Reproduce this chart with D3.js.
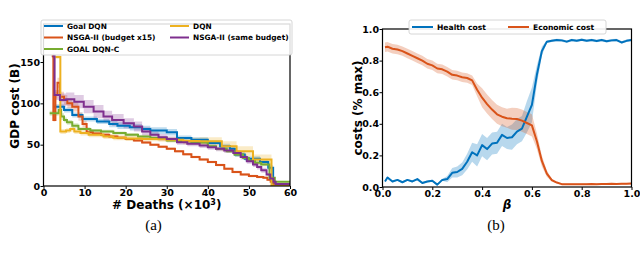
<!DOCTYPE html>
<html>
<head>
<meta charset="utf-8">
<script src="https://cdn.jsdelivr.net/npm/d3@7"></script>
<style>
  body { margin: 0; background: #fff; }
  text { font-family: "DejaVu Sans", sans-serif; }
</style>
</head>
<body>
<svg id="chart" width="640" height="255"></svg>
<script>
// ---- panel (a): pareto fronts, x = deaths (x10^3), y = GDP cost (B)
const goalX = [2.5, 5, 7, 9.5, 13, 16, 18, 21, 24, 26, 30, 32.5, 36, 40, 43, 45.4, 46.6, 49, 52.7, 54.7, 55.9, 56.5, 60];
const goalY = [96, 92, 86, 81, 78, 75, 73, 71, 69, 67, 65, 58, 56, 52, 48, 45, 38, 33, 29, 22, 3, 1, 1];
const goalErr = [3, 3, 3, 3, 3, 4, 4, 4, 4, 4, 4, 3, 3, 3, 3, 3, 3, 3, 3, 3, 1, 0.5, 0.5];

const nsga15X = [2.0, 2.4, 2.9, 3.4, 4.0, 5.0, 5.8, 7, 8.5, 9.5, 10.5, 12, 14, 16, 18, 20, 22, 24, 26, 28, 30, 32, 34, 36, 38, 40, 42, 44, 46, 48, 50, 52, 53.5, 54.5, 55.3, 56, 60];
const nsga15Y = [157, 80, 110, 125, 108, 104, 100, 96, 84, 75, 65, 63.5, 62, 60, 58.5, 57, 55, 52.5, 50, 47.5, 45, 42, 38.5, 35, 32, 29, 25.5, 21, 17, 14, 12, 11, 10, 7.5, 5, 1, 1];
const nsga15Err = [0, 2, 4, 6, 6, 6, 6, 6, 5, 4, 3, 2, 2, 2, 2, 1.5, 1.5, 1.5, 1.5, 1.5, 1.5, 1.5, 1.5, 1.5, 1.5, 1.5, 1.5, 1.5, 1.5, 1.5, 1.5, 1.5, 1.5, 1, 1, 0.5, 0.5];

const dqncX = [1.5, 3.7, 4.3, 5, 5.7, 7, 8.5, 11.4, 14, 17, 20, 23, 26, 30, 33, 36, 40, 42, 44.6, 46.5, 48.6, 50, 51.5, 53, 55, 56.3, 60];
const dqncY = [88, 92, 84, 80, 77, 73, 69, 67, 66, 64, 62, 60, 58, 55, 54, 52.5, 48, 45, 42, 38, 34, 31, 28, 26, 10, 5, 5];
const dqncErr = [3, 4, 4, 3, 3, 3, 2, 2, 2, 2, 2, 2, 2, 2, 2, 2, 2, 2, 2, 2, 2, 2, 2, 2, 1, 1, 1];

const dqnX = [2.9, 4.1, 5.5, 6.5, 7.5, 9, 11, 14.6, 17, 20, 24, 28, 30, 34, 38, 43.4, 47, 51, 55.5, 60];
const dqnY = [156, 66, 67, 69, 66, 64, 62, 60, 58.5, 57.5, 57, 56.5, 56, 54.5, 54, 48, 42, 32, 0.5, 0.5];
const dqnErr = [2, 3, 3, 3, 3, 3, 3, 3, 3, 3, 3, 3, 3, 4, 5, 6, 6, 6, 0.5, 0.5];

const nsgaSameX = [2.2, 2.7, 4, 5.5, 7.5, 9.8, 12.2, 14.6, 16.7, 19.5, 22, 24, 26, 28, 30, 32.5, 35, 38, 40, 42, 44, 46.2, 48, 49.5, 51, 52, 53, 54.3, 55.2, 56, 56.5, 60];
const nsgaSameY = [157, 110, 104, 105, 102, 96, 90, 84, 80, 76, 72, 66, 62, 59, 57, 53, 51, 49, 47, 45, 43, 40, 35, 30, 26, 23, 19, 14, 9, 5, 2.5, 2.5];
const nsgaSameErr = [4, 6, 8, 8, 8, 8, 8, 7, 7, 6, 6, 5, 4, 4, 3, 3, 3, 3, 3, 3, 3, 3, 3, 3, 3, 3, 3, 2, 2, 1, 1, 1];

const deathTicks = [0, 10, 20, 30, 40, 50, 60];
const gdpTicks = [0, 50, 100, 150];

// ---- panel (b): costs vs beta
const beta = [0.01, 0.02, 0.04, 0.06, 0.08, 0.10, 0.12, 0.14, 0.16, 0.18, 0.20, 0.22, 0.24, 0.26, 0.28, 0.30, 0.32, 0.34, 0.36, 0.38, 0.40, 0.42, 0.44, 0.46, 0.48, 0.50, 0.52, 0.54, 0.56, 0.58, 0.60, 0.62, 0.64, 0.66, 0.68, 0.70, 0.72, 0.74, 0.76, 0.78, 0.80, 0.82, 0.84, 0.86, 0.88, 0.90, 0.92, 0.94, 0.96, 0.98, 1.00];
const health = [0.035, 0.06, 0.035, 0.045, 0.03, 0.045, 0.035, 0.05, 0.025, 0.035, 0.04, 0.015, 0.045, 0.05, 0.09, 0.095, 0.115, 0.16, 0.22, 0.20, 0.265, 0.24, 0.275, 0.28, 0.33, 0.31, 0.315, 0.35, 0.37, 0.445, 0.52, 0.71, 0.86, 0.92, 0.925, 0.93, 0.928, 0.92, 0.93, 0.925, 0.932, 0.925, 0.93, 0.924, 0.93, 0.922, 0.928, 0.93, 0.915, 0.925, 0.93];
const healthErr = [0.006, 0.006, 0.006, 0.006, 0.006, 0.006, 0.006, 0.006, 0.006, 0.006, 0.006, 0.006, 0.006, 0.02, 0.03, 0.035, 0.04, 0.05, 0.06, 0.07, 0.07, 0.07, 0.07, 0.07, 0.07, 0.07, 0.08, 0.08, 0.08, 0.1, 0.11, 0.06, 0.03, 0.008, 0.008, 0.008, 0.008, 0.008, 0.008, 0.008, 0.008, 0.008, 0.008, 0.008, 0.008, 0.008, 0.008, 0.008, 0.008, 0.008, 0.008];
const econ = [0.885, 0.888, 0.875, 0.87, 0.86, 0.845, 0.83, 0.815, 0.8, 0.78, 0.77, 0.75, 0.745, 0.73, 0.71, 0.705, 0.695, 0.69, 0.675, 0.615, 0.565, 0.525, 0.49, 0.46, 0.445, 0.435, 0.432, 0.43, 0.42, 0.405, 0.39, 0.29, 0.165, 0.085, 0.043, 0.028, 0.018, 0.017, 0.018, 0.017, 0.018, 0.018, 0.019, 0.018, 0.019, 0.019, 0.02, 0.019, 0.02, 0.02, 0.022];
const econErr = [0.03, 0.03, 0.03, 0.03, 0.03, 0.03, 0.03, 0.03, 0.03, 0.03, 0.03, 0.03, 0.03, 0.03, 0.03, 0.03, 0.03, 0.03, 0.03, 0.04, 0.06, 0.06, 0.06, 0.06, 0.06, 0.06, 0.07, 0.07, 0.07, 0.07, 0.07, 0.05, 0.035, 0.02, 0.01, 0.005, 0.005, 0.005, 0.005, 0.005, 0.005, 0.005, 0.005, 0.005, 0.005, 0.005, 0.005, 0.005, 0.005, 0.005, 0.005];

const betaTicks = [0, 0.2, 0.4, 0.6, 0.8, 1.0];
const costTicks = [0, 0.2, 0.4, 0.6, 0.8, 1.0];

const svg = d3.select("#chart");

// shared helper: box, ticks, tick labels
function drawAxes(x, y, xt, yt, fmt) {
  const g = svg.append("g");
  g.append("g")
    .attr("transform", `translate(0,${y.range()[0]})`)
    .call(d3.axisBottom(x).tickValues(xt).tickSize(3).tickPadding(0).tickFormat(fmt))
    .call((a) => a.select(".domain").remove());
  g.append("g")
    .attr("transform", `translate(${x.range()[0]},0)`)
    .call(d3.axisLeft(y).tickValues(yt).tickSize(3).tickPadding(0.5).tickFormat(fmt))
    .call((a) => a.select(".domain").remove());
  g.selectAll(".tick line").attr("stroke", "#000").attr("stroke-width", 1);
  g.selectAll(".tick text")
    .attr("fill", "#000")
    .style("font-family", "DejaVu Sans")
    .style("font-weight", "bold")
    .style("font-size", "9.5px");
  g.append("rect")
    .attr("x", x.range()[0])
    .attr("y", y.range()[1])
    .attr("width", x.range()[1] - x.range()[0])
    .attr("height", y.range()[0] - y.range()[1])
    .attr("fill", "none")
    .attr("stroke", "#000")
    .attr("stroke-width", 1.2);
}

function clipFor(id, x, y) {
  svg.append("clipPath").attr("id", id)
    .append("rect")
    .attr("x", x.range()[0])
    .attr("y", y.range()[1])
    .attr("width", x.range()[1] - x.range()[0])
    .attr("height", y.range()[0] - y.range()[1]);
}

// ================= panel (a)
const xa = d3.scaleLinear().domain([0, 60]).range([43.5, 290]);
const ya = d3.scaleLinear().domain([0, 196]).range([186, 24]);
clipFor("clipA", xa, ya);

const fronts = [
  { name: "Goal DQN", color: "#0072BD", xs: goalX, ys: goalY, err: goalErr },
  { name: "NSGA-II (budget x15)", color: "#D95319", xs: nsga15X, ys: nsga15Y, err: nsga15Err },
  { name: "GOAL DQN-C", color: "#77AC30", xs: dqncX, ys: dqncY, err: dqncErr },
  { name: "DQN", color: "#EDB120", xs: dqnX, ys: dqnY, err: dqnErr },
  { name: "NSGA-II (same budget)", color: "#7E2F8E", xs: nsgaSameX, ys: nsgaSameY, err: nsgaSameErr },
];

const gA = svg.append("g").attr("clip-path", "url(#clipA)");

const stepArea = d3.area()
  .curve(d3.curveStepAfter)
  .x((d) => xa(d.x))
  .y0((d) => ya(d.y - d.e))
  .y1((d) => ya(d.y + d.e));
const stepLine = d3.line()
  .curve(d3.curveStepAfter)
  .x((d) => xa(d.x))
  .y((d) => ya(d.y));

fronts.forEach((s) => {
  const pts = s.xs.map((v, i) => ({ x: v, y: s.ys[i], e: s.err[i] }));
  gA.append("path").datum(pts)
    .attr("fill", s.color).attr("fill-opacity", 0.25)
    .attr("d", stepArea);
});
fronts.forEach((s) => {
  const pts = s.xs.map((v, i) => ({ x: v, y: s.ys[i] }));
  gA.append("path").datum(pts)
    .attr("fill", "none")
    .attr("stroke", s.color)
    .attr("stroke-width", 2)
    .attr("d", stepLine);
});

drawAxes(xa, ya, deathTicks, gdpTicks, d3.format("d"));

// axis labels
svg.append("text")
  .attr("x", (xa.range()[0] + xa.range()[1]) / 2)
  .attr("y", 209)
  .attr("text-anchor", "middle")
  .style("font-weight", "bold").style("font-size", "12px")
  .html('# Deaths (×10<tspan dy="-4" font-size="8px">3</tspan><tspan dy="4">)</tspan>');

svg.append("text")
  .attr("transform", "translate(18.5,106) rotate(-90)")
  .attr("text-anchor", "middle")
  .style("font-weight", "bold").style("font-size", "12px")
  .text("GDP cost (B)");

// legend (a)
const legA = svg.append("g");
legA.append("rect")
  .attr("x", 41).attr("y", 20).attr("width", 251).attr("height", 35)
  .attr("rx", 2)
  .attr("fill", "#fff").attr("fill-opacity", 0.85)
  .attr("stroke", "#cccccc").attr("stroke-width", 0.8);
fronts.forEach((s, i) => {
  const col = i < 3 ? 0 : 1;
  const row = i < 3 ? i : i - 3;
  const lx = col === 0 ? 44 : 170;
  const ly = 26 + row * 11.5;
  legA.append("line")
    .attr("x1", lx).attr("x2", lx + 19).attr("y1", ly).attr("y2", ly)
    .attr("stroke", s.color).attr("stroke-width", 2);
  legA.append("text")
    .attr("x", lx + 23).attr("y", ly)
    .attr("dominant-baseline", "central")
    .style("font-weight", "bold").style("font-size", "7.4px")
    .text(s.name);
});

// ================= panel (b)
const xb = d3.scaleLinear().domain([0, 1]).range([382.5, 631.5]);
const yb = d3.scaleLinear().domain([0, 1]).range([187, 29]);
clipFor("clipB", xb, yb);

const costs = [
  { name: "Health cost", color: "#0072BD", vals: health, err: healthErr },
  { name: "Economic cost", color: "#D95319", vals: econ, err: econErr },
];

const gB = svg.append("g").attr("clip-path", "url(#clipB)");
const bandB = d3.area()
  .x((d) => xb(d.b))
  .y0((d) => yb(d.v - d.e))
  .y1((d) => yb(d.v + d.e));
const lineB = d3.line()
  .x((d) => xb(d.b))
  .y((d) => yb(d.v));

costs.forEach((s) => {
  const pts = beta.map((b, i) => ({ b: b, v: s.vals[i], e: s.err[i] }));
  gB.append("path").datum(pts)
    .attr("fill", s.color).attr("fill-opacity", 0.28)
    .attr("d", bandB);
});
costs.forEach((s) => {
  const pts = beta.map((b, i) => ({ b: b, v: s.vals[i] }));
  gB.append("path").datum(pts)
    .attr("fill", "none")
    .attr("stroke", s.color)
    .attr("stroke-width", 2)
    .attr("stroke-linejoin", "round")
    .attr("d", lineB);
});

drawAxes(xb, yb, betaTicks, costTicks, d3.format(".1f"));

svg.append("text")
  .attr("x", (xb.range()[0] + xb.range()[1]) / 2)
  .attr("y", 209)
  .attr("text-anchor", "middle")
  .style("font-weight", "bold").style("font-style", "italic").style("font-size", "12px")
  .text("β");

svg.append("text")
  .attr("transform", "translate(361.5,108) rotate(-90)")
  .attr("text-anchor", "middle")
  .style("font-weight", "bold").style("font-size", "12px")
  .text("costs (% max)");

// legend (b)
const legB = svg.append("g");
legB.append("rect")
  .attr("x", 409).attr("y", 20).attr("width", 197).attr("height", 14)
  .attr("rx", 2)
  .attr("fill", "#fff").attr("fill-opacity", 0.9)
  .attr("stroke", "#cccccc").attr("stroke-width", 0.8);
costs.forEach((s, i) => {
  const lx = i === 0 ? 412 : 508;
  const ly = 27;
  legB.append("line")
    .attr("x1", lx).attr("x2", lx + 21).attr("y1", ly).attr("y2", ly)
    .attr("stroke", s.color).attr("stroke-width", 2);
  legB.append("text")
    .attr("x", lx + 25).attr("y", ly)
    .attr("dominant-baseline", "central")
    .style("font-weight", "bold").style("font-size", "7.6px")
    .text(s.name);
});

// sub-captions
[["(a)", 153.5], ["(b)", 496]].forEach(([t, cx]) => {
  svg.append("text")
    .attr("x", cx).attr("y", 230)
    .attr("text-anchor", "middle")
    .style("font-family", "Liberation Serif, serif")
    .style("font-size", "15px")
    .text(t);
});
</script>
</body>
</html>
